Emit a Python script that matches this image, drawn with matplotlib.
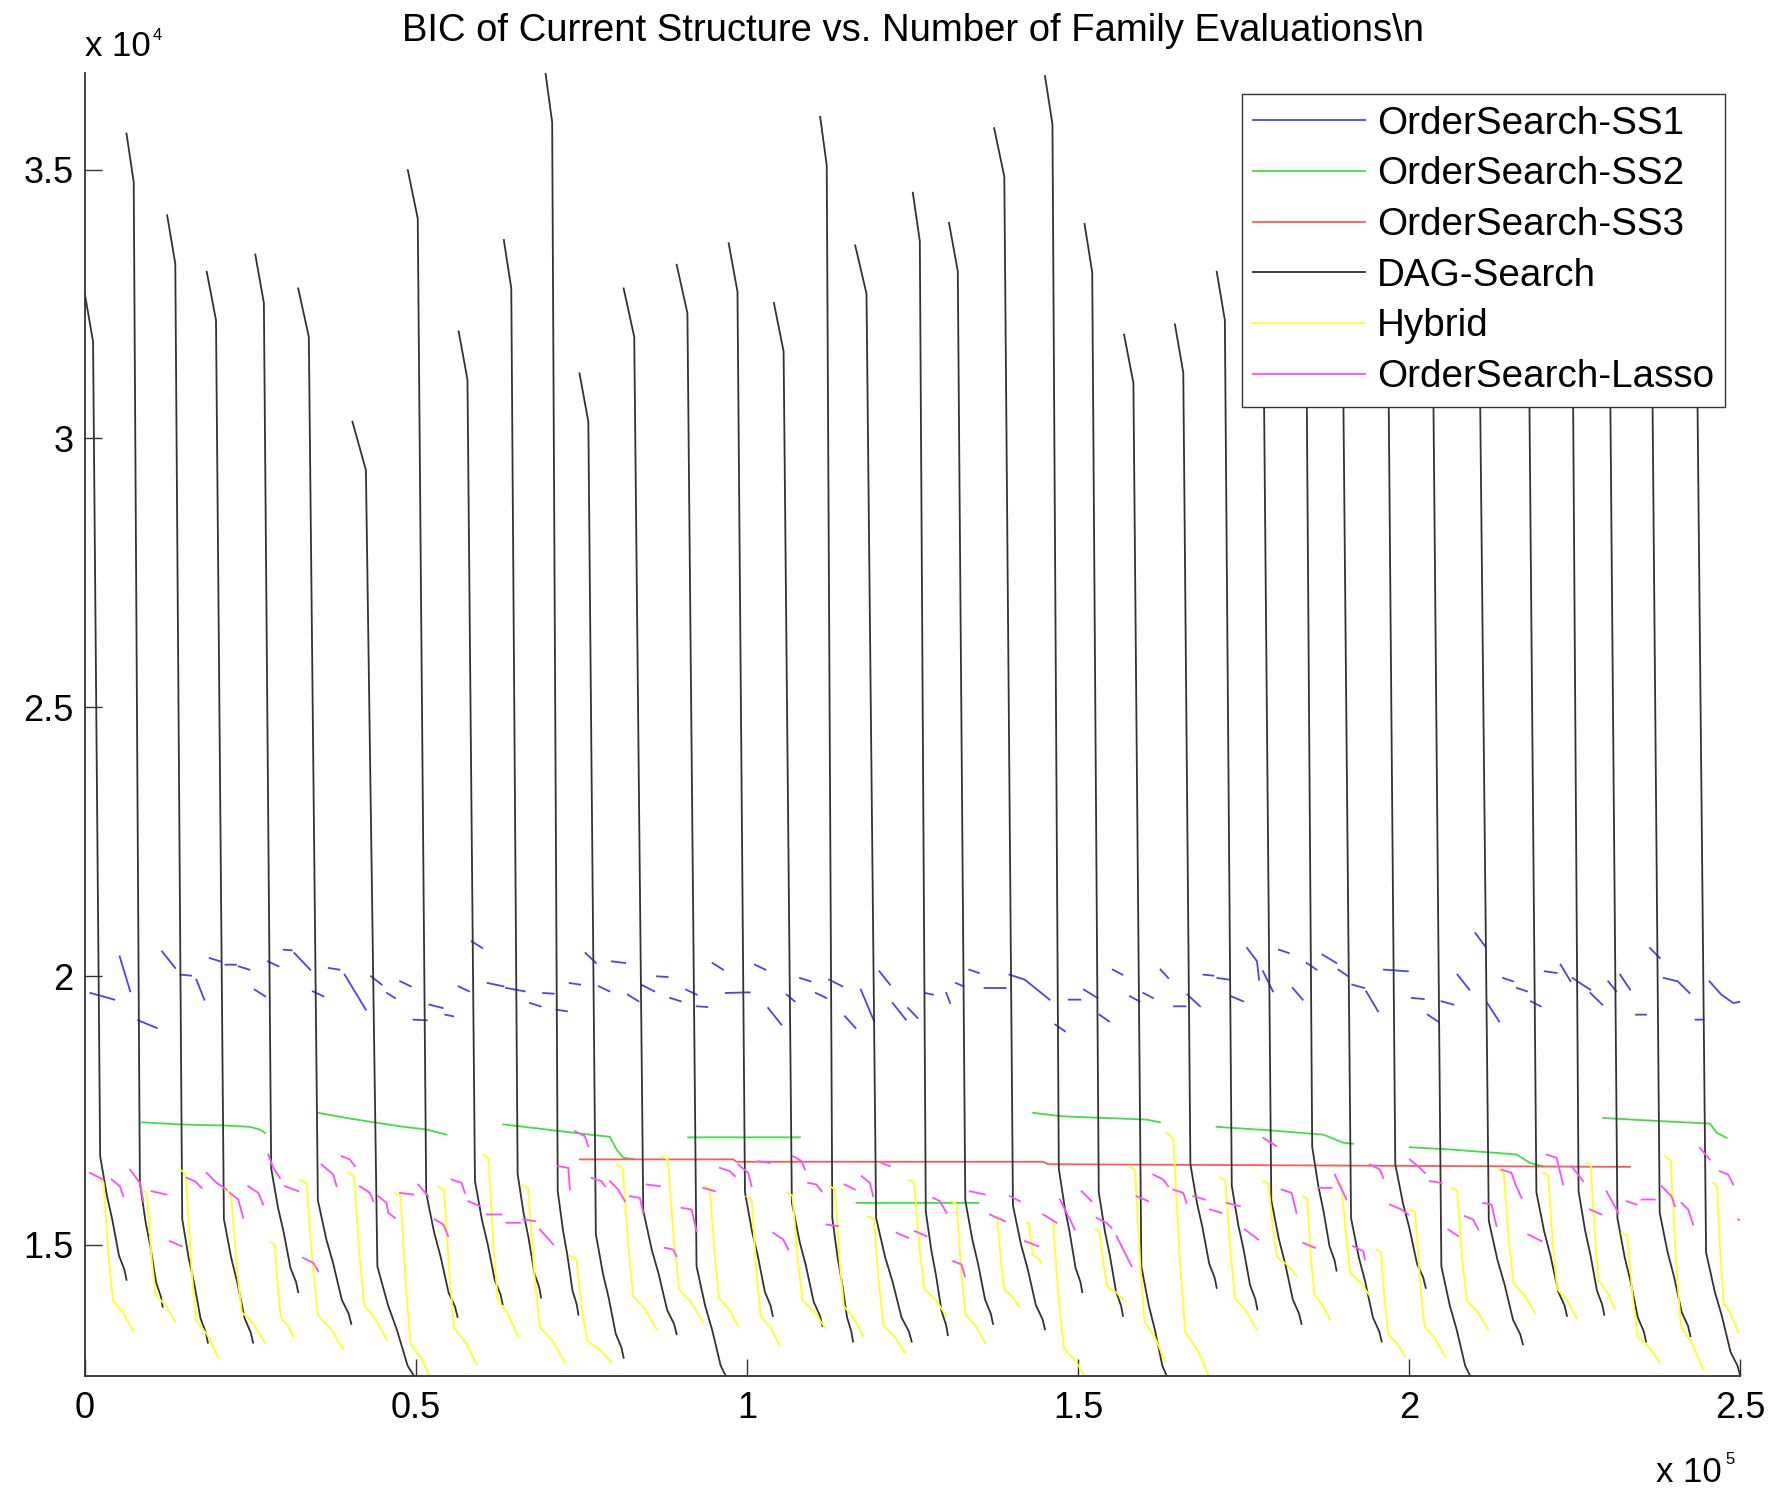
import numpy as np
import matplotlib
matplotlib.use('Agg')
import matplotlib.pyplot as plt
from matplotlib.ticker import FixedLocator, FuncFormatter

plt.rcParams['font.family'] = ['Liberation Sans', 'DejaVu Sans']

# ---- DAG-Search: one steep run per restart (start point, end point) ----
dag_start_x = [0, 6310, 12450, 18430, 25760, 32240, 40430, 48790, 56470, 63290,
               69600, 74720, 81380, 89390, 97240, 104070, 111060, 116350, 125050, 130510,
               137330, 145010, 150980, 156950, 164630, 170940, 176500, 183200, 188500, 195200,
               201900, 209000, 216500, 223300, 228900, 235100, 241800]
dag_start_y = [32700, 35670, 34150, 33100, 33420, 32790, 30310, 34990, 31990, 33690,
               36780, 31210, 32790, 33230, 33630, 32520, 35980, 33590, 34570, 34010,
               35770, 36740, 33990, 31930, 32120, 33100, 33500, 34600, 32900, 35200,
               33800, 32600, 34300, 35600, 33100, 34000, 32800]
dag_end_x = [6310, 11770, 18600, 25420, 32240, 40260, 50600, 56300, 63120, 68920,
             74550, 81380, 89390, 97500, 103900, 111400, 116010, 124880, 130340, 137160,
             145010, 150640, 156780, 164000, 170940, 177080, 183740, 189030, 195850, 202500,
             209900, 217170, 223830, 229460, 235770, 242480, 250000]
dag_end_y = [14350, 13850, 13180, 13180, 14120, 13530, 12300, 13660, 13890, 14020,
             13700, 12900, 13340, 12300, 13680, 13490, 13200, 13200, 13320, 13530,
             13430, 14120, 13680, 12300, 14200, 13800, 13530, 14520, 13200, 14200,
             12300, 13150, 13680, 13700, 13200, 13300, 12560]
# shape of a run: fraction of its width, BIC offset (first two from start, rest from end)
dag_prof_f = [0.0, 0.20, 0.37, 0.53, 0.66, 0.82, 0.95, 1.0]
dag_prof_dy = [0, -900, 2300, 1570, 1120, 450, 190, 0]

# ---- Hybrid runs ----
hyb_start_x = [2050, 8590, 14380, 21180, 28230, 32500, 39800, 46850, 53390, 60180,
               65970, 73270, 80320, 87110, 93660, 99950, 105990, 112530, 118320, 124360,
               130900, 137190, 142230, 145250, 152550, 157830, 163370, 171420, 177960, 184000,
               189040, 195080, 200110, 206400, 213450, 220240, 226790, 232070, 238620, 245910]
hyb_start_y = [16215, 16030, 16400, 16030, 15040, 16215, 16340, 15970, 16090, 16680,
               16120, 14790, 16490, 16650, 16090, 15900, 15970, 16090, 15530, 16215,
               15810, 15530, 15410, 15530, 15290, 16460, 17080, 16250, 16180, 15900,
               16150, 14910, 15660, 16060, 16400, 16340, 16520, 15220, 16650, 16150]
hyb_end_x = [7330, 13630, 20170, 27220, 31490, 39040, 45590, 52500, 59180, 65420,
             72520, 79560, 86360, 93400, 98690, 104980, 111780, 117560, 123860, 130150,
             135940, 141220, 144490, 151500, 157080, 163120, 170100, 176960, 183000, 188030,
             194070, 199360, 205400, 211940, 218990, 225280, 231070, 237860, 244400, 249690]
hyb_end_y = [13395, 13580, 12900, 13180, 13300, 13055, 13240, 12450, 12780, 13300,
             12810, 12810, 13430, 13550, 13490, 13120, 13460, 13300, 12990, 13670,
             13180, 13830, 14670, 12450, 13950, 12840, 12450, 13430, 14420, 13610,
             14050, 12930, 12930, 13430, 13740, 13640, 13800, 12810, 12680, 13365]
hyb_prof_f = [0.0, 0.15, 0.30, 0.42, 0.72, 1.0]
hyb_prof_s = [0.0, 0.02, 0.52, 0.80, 0.88, 1.0]

# ---- OrderSearch-SS2 ----
ss2_runs = [
    [(8600, 17280), (14380, 17240), (20920, 17220), (24950, 17195), (26460, 17145), (27220, 17080)],
    [(35270, 17455), (39550, 17360), (42570, 17300), (47600, 17205), (51630, 17145), (54650, 17050)],
    [(63200, 17240), (65720, 17205), (71760, 17115), (76290, 17050), (79310, 17010), (80320, 16775),
     (81320, 16620), (82830, 16600)],
    [(91130, 17000), (108000, 17000)],
    [(116560, 15780), (134920, 15780)],
    [(143230, 17455), (147760, 17390), (156320, 17350), (160350, 17330), (162360, 17280)],
    [(170920, 17195), (178970, 17130), (187020, 17050), (190040, 16900), (191550, 16880)],
    [(200110, 16815), (206150, 16775), (213200, 16710), (216220, 16680), (218230, 16525), (220240, 16460)],
    [(229300, 17360), (235850, 17315), (245420, 17255), (246430, 17085), (247940, 16990)],
]

# ---- OrderSearch-SS3 ----
ss3_x = [74780, 97930, 98440, 144740, 145500, 233330]
ss3_y = [16590, 16590, 16545, 16545, 16500, 16450]

# ---- OrderSearch-SS1 (short pieces) ----
ss1_pieces = [
    [(880, 19685), (4477, 19561)], [(5276, 20366), (6875, 19716)], [(8074, 19177), (10872, 19034)],
    [(11672, 20459), (13670, 20150)], [(14470, 20026), (16068, 20007)], [(16868, 19933), (18067, 19561)],
    [(18866, 20335), (20460, 20273)], [(21263, 20211), (22862, 20211)], [(23260, 20180), (24862, 20118)],
    [(25661, 19747), (27259, 19623)], [(27659, 20273), (29258, 20180)], [(30058, 20490), (31257, 20478)],
    [(31657, 20428), (34054, 20118)], [(34454, 19716), (36053, 19623)], [(36852, 20150), (38452, 20118)],
    [(39251, 20026), (42448, 19375)], [(43248, 19995), (44847, 19840)], [(45646, 19685), (46845, 19592)],
    [(47645, 19902), (49244, 19809)], [(49644, 19189), (51643, 19177)], [(52042, 19468), (54040, 19406)],
    [(54440, 19282), (55640, 19251)], [(56440, 19809), (58037, 19716)], [(58437, 20645), (60036, 20521)],
    [(60836, 19870), (63233, 19809)], [(63633, 19778), (66430, 19716)], [(67230, 19499), (68828, 19437)],
    [(69228, 19685), (70826, 19672)], [(71227, 19375), (72826, 19344)], [(73226, 19870), (74824, 19840)],
    [(75624, 20428), (77223, 20242)], [(77623, 19809), (79221, 19716)], [(79621, 20273), (81619, 20242)],
    [(82019, 19654), (83618, 19530)], [(84018, 19840), (86016, 19716)], [(86416, 19995), (88015, 19982)],
    [(88414, 19592), (90013, 19530)], [(90813, 19747), (92411, 19654)], [(92411, 19437), (94010, 19424)],
    [(94810, 20242), (96408, 20118)], [(96808, 19685), (100405, 19697)], [(101205, 20211), (102803, 20118)],
    [(103203, 19406), (105202, 19096)], [(106000, 19654), (107200, 19530)], [(108000, 19964), (109600, 19902)],
    [(110400, 19685), (112000, 19592)], [(112400, 19933), (114400, 19809)], [(114800, 19251), (116400, 19034)],
    [(117200, 19747), (119200, 19158)], [(120000, 20088), (121600, 19840)], [(122000, 19499), (124000, 19189)],
    [(124320, 19406), (125770, 19220)], [(126920, 19685), (128080, 19654)], [(130100, 19685), (130680, 19499)],
    [(131550, 19871), (132700, 19809)], [(133570, 20119), (135010, 20057)], [(135880, 19778), (139060, 19778)],
    [(139640, 20026), (141950, 19933), (145700, 19561)], [(146570, 19096), (148020, 18972)],
    [(148600, 19561), (150330, 19561)], [(150900, 19747), (152930, 19592)], [(153220, 19282), (154660, 19158)],
    [(155240, 20119), (156690, 20026)], [(157840, 19623), (159280, 19530)], [(159860, 19685), (161310, 19592)],
    [(162460, 20119), (163620, 19964)], [(164490, 19437), (166220, 19437)], [(166510, 19654), (168420, 19437)],
    [(168940, 20026), (170440, 20007)], [(171040, 19964), (172830, 19933)], [(173130, 19623), (174930, 19530)],
    [(175530, 20521), (177030, 20274), (177330, 19933)], [(177930, 20088), (179420, 19716)],
    [(180320, 20490), (181820, 20429)], [(182420, 19778), (183920, 19561)], [(184520, 20243), (186020, 20119)],
    [(186920, 20398), (189010, 20243)], [(189310, 20119), (190810, 19995)], [(191410, 19840), (193210, 19778)],
    [(193510, 19716), (195300, 19344)], [(196200, 20119), (199800, 20088)], [(200400, 19592), (202200, 19573)],
    [(202800, 19282), (204290, 19158)], [(204890, 19530), (206690, 19468)], [(207290, 20026), (209090, 19747)],
    [(209990, 20800), (211480, 20552)], [(211780, 19499), (213580, 19158)], [(214180, 19964), (215680, 19902)],
    [(216280, 19778), (217780, 19716)], [(218370, 19530), (219870, 19437)], [(220470, 20088), (222270, 20057)],
    [(222870, 20212), (224370, 19902)], [(224660, 19964), (226160, 19840), (227360, 19747)],
    [(227360, 19685), (229160, 19468)], [(230060, 19902), (231260, 19716)], [(231860, 20026), (233360, 19747)],
    [(234260, 19282), (235750, 19282)], [(236350, 20521), (237850, 20336)],
    [(238450, 19964), (240540, 19902), (242340, 19685)], [(243240, 19189), (244440, 19189)],
    [(245340, 19902), (247140, 19654), (248940, 19499), (250000, 19520)],
]

# ---- OrderSearch-Lasso (short pieces) ----
lasso_pieces = [
    [(791, 16339), (2804, 16215)], [(4062, 16215), (5321, 16091), (5824, 15905)],
    [(6831, 16401), (8340, 16153), (8844, 15812)], [(10100, 15998), (12370, 15936)],
    [(12870, 15069), (14630, 14976)], [(15390, 16246), (16640, 16184), (17650, 16060)],
    [(18410, 16339), (19920, 16153), (21430, 16029)], [(21930, 15967), (23190, 15843), (23940, 15503)],
    [(24700, 16091), (26210, 15967), (26960, 15750)], [(27720, 16680), (28470, 16432), (29480, 16246)],
    [(30230, 16091), (32250, 15998)], [(32960, 14759), (34510, 14666), (35270, 14511)],
    [(35770, 16494), (37530, 16308), (38040, 16091)], [(38790, 16649), (40050, 16587), (40800, 16463)],
    [(41560, 16091), (43070, 15967), (43570, 15812)],
    [(44330, 15905), (45580, 15781), (45840, 15596), (46850, 15503)],
    [(47600, 15967), (49610, 15936)], [(50370, 16122), (51880, 15905)],
    [(52880, 15472), (54140, 15379), (54900, 15162)], [(55400, 16215), (56910, 16153), (57410, 15967)],
    [(57920, 15812), (59680, 15720)], [(60680, 15565), (62950, 15565)], [(63700, 15410), (65720, 15410)],
    [(66220, 15472), (67980, 15441)], [(68740, 15286), (70750, 15007)],
    [(71510, 16463), (73020, 16432), (73270, 16029)], [(74020, 17114), (75530, 17021), (76040, 16835)],
    [(76540, 16246), (78050, 16184), (78550, 16091)], [(79310, 16184), (80570, 16029), (81570, 15812)],
    [(82330, 15905), (83840, 15874), (84340, 15596)], [(84850, 16122), (86860, 16091)],
    [(87610, 14945), (88870, 14914), (89370, 14790)], [(90130, 15689), (91640, 15658), (92400, 15255)],
    [(93400, 16060), (95160, 15998)], [(95920, 16432), (97430, 16370), (98180, 16277)],
    [(98690, 16494), (100200, 16339), (100700, 16091)], [(101700, 16556), (103470, 16525)],
    [(103970, 15224), (105480, 15100), (106240, 14914)], [(106990, 16649), (108250, 16556), (108750, 16401)],
    [(109250, 16153), (110510, 16122), (111270, 15998)], [(112020, 15379), (113780, 15348)],
    [(114790, 16122), (116300, 16029)], [(117310, 16277), (118570, 16153), (119070, 15905)],
    [(120330, 16525), (121590, 16463)], [(122590, 15224), (124360, 15131)],
    [(125360, 15255), (127120, 15162)], [(128130, 15874), (129140, 15812), (130150, 15596)],
    [(131150, 14697), (132410, 14635), (132910, 14418)], [(133670, 15998), (135930, 15936)],
    [(136690, 15565), (138950, 15441)], [(139710, 15905), (141220, 15812)],
    [(141970, 15069), (143990, 14976)], [(144740, 15565), (146760, 15410)],
    [(147260, 15843), (148270, 15596), (149520, 15286)], [(150530, 15998), (152040, 15812)],
    [(152790, 15503), (154300, 15410), (155060, 15317)], [(155810, 15162), (158080, 14604)],
    [(158830, 15905), (160600, 15812)], [(161350, 16308), (162860, 16215), (163610, 16091)],
    [(164370, 16029), (165880, 15967), (166380, 15781)], [(167390, 15905), (169150, 15843)],
    [(169910, 15658), (171670, 15596)], [(172420, 15781), (174440, 15720)],
    [(175190, 15286), (177210, 15100)], [(177960, 16990), (179970, 16835)],
    [(180730, 16029), (182240, 15967), (182990, 15596)], [(184000, 15038), (185760, 14945)],
    [(186270, 16060), (188280, 16060)], [(188780, 16308), (190540, 15843)],
    [(191550, 14976), (193060, 14883), (193310, 14728)], [(194070, 16494), (195580, 16401), (196080, 16246)],
    [(197090, 15750), (198850, 15658), (199860, 15565)], [(200110, 16587), (201620, 16432), (202370, 16339)],
    [(203130, 16184), (204890, 16153)], [(205900, 15286), (207410, 15162)],
    [(208410, 15534), (209670, 15472), (210430, 15286)], [(211180, 15781), (212440, 15750), (213190, 15348)],
    [(213950, 16401), (215460, 16339), (215960, 16153), (216970, 15874)],
    [(217980, 15193), (219990, 15069)], [(220750, 16680), (222260, 16618), (223260, 16122)],
    [(224520, 16463), (226280, 16184)], [(227290, 15658), (229050, 15565)],
    [(229800, 15998), (231570, 15596)], [(232820, 15812), (234330, 15750)],
    [(235090, 15843), (237100, 15843)], [(238110, 16091), (239620, 15905), (240120, 15720)],
    [(241130, 15781), (242130, 15658), (242890, 15379)], [(243900, 16804), (245410, 16587)],
    [(246920, 16370), (248180, 16308), (248930, 16122)], [(249680, 15472), (250000, 15465)],
]

x_ticks = [0, 50000, 100000, 150000, 200000, 250000]
y_ticks = [15000, 20000, 25000, 30000, 35000]


def join(pieces):
    xs, ys = [], []
    for p in pieces:
        xs += [q[0] for q in p] + [np.nan]
        ys += [q[1] for q in p] + [np.nan]
    return xs, ys


def runs(x0s, y0s, x1s, y1s, prof_f, build_y):
    xs, ys = [], []
    for x0, y0, x1, y1 in zip(x0s, y0s, x1s, y1s):
        for i, f in enumerate(prof_f):
            xs.append(x0 + f * (x1 - x0))
            ys.append(build_y(i, y0, y1))
        xs.append(np.nan)
        ys.append(np.nan)
    return xs, ys


dag_x, dag_y = runs(dag_start_x, dag_start_y, dag_end_x, dag_end_y, dag_prof_f,
                    lambda i, y0, y1: (y0 if i < 2 else y1) + dag_prof_dy[i])
hyb_x, hyb_y = runs(hyb_start_x, hyb_start_y, hyb_end_x, hyb_end_y, hyb_prof_f,
                    lambda i, y0, y1: y0 - hyb_prof_s[i] * (y0 - y1))
ss1_x, ss1_y = join(ss1_pieces)
ss2_x, ss2_y = join(ss2_runs)
las_x, las_y = join(lasso_pieces)

fig = plt.figure(figsize=(17.72, 14.97), dpi=100)
ax = fig.add_axes([0.0478, 0.0808, 0.9343, 0.8702])

lw = 1.3
h1, = ax.plot(ss1_x, ss1_y, color='#4646ee', lw=lw, label='OrderSearch-SS1')
h2, = ax.plot(ss2_x, ss2_y, color='#3fe03f', lw=lw, label='OrderSearch-SS2')
h3, = ax.plot(ss3_x, ss3_y, color='#ff5a5a', lw=lw, label='OrderSearch-SS3')
h4, = ax.plot(dag_x, dag_y, color='#333333', lw=lw, label='DAG-Search')
h5, = ax.plot(hyb_x, hyb_y, color='#ffff22', lw=lw, label='Hybrid')
h6, = ax.plot(las_x, las_y, color='#ff4cff', lw=lw, label='OrderSearch-Lasso')

ax.set_xlim(0, 250000)
ax.set_ylim(12560, 36790)
ax.xaxis.set_major_locator(FixedLocator(x_ticks))
ax.yaxis.set_major_locator(FixedLocator(y_ticks))
ax.xaxis.set_major_formatter(FuncFormatter(lambda v, p: '%g' % (v / 1e5)))
ax.yaxis.set_major_formatter(FuncFormatter(lambda v, p: '%g' % (v / 1e4)))
ax.tick_params(direction='in', length=12, width=1.0, color='#333333', labelsize=26)
ax.tick_params(axis='x', pad=11)
ax.tick_params(axis='y', pad=8)
for s in ['top', 'right']:
    ax.spines[s].set_visible(False)
for s in ['left', 'bottom']:
    ax.spines[s].set_color('#333333')
    ax.spines[s].set_linewidth(1.3)

leg = ax.legend(handles=[h1, h2, h3, h4, h5, h6], loc='upper right',
                bbox_to_anchor=(0.991, 0.984), borderaxespad=0, fontsize=27.8,
                fancybox=False, framealpha=1, edgecolor='#333333',
                handlelength=2.9, handletextpad=0.3, labelspacing=0.38, borderpad=0.3)
leg.get_frame().set_linewidth(1.0)

fig.text(0.515, 0.979, 'BIC of Current Structure vs. Number of Family Evaluations\\n',
         ha='center', va='center', fontsize=27.5)
fig.text(0.0478, 0.969, 'x 10', ha='left', va='center', fontsize=25)
fig.text(0.0860, 0.976, '4', ha='left', va='center', fontsize=12)
fig.text(0.9343, 0.0165, 'x 10', ha='left', va='center', fontsize=25)
fig.text(0.9735, 0.0250, '5', ha='left', va='center', fontsize=12)

fig.savefig('out.png', dpi=100)
